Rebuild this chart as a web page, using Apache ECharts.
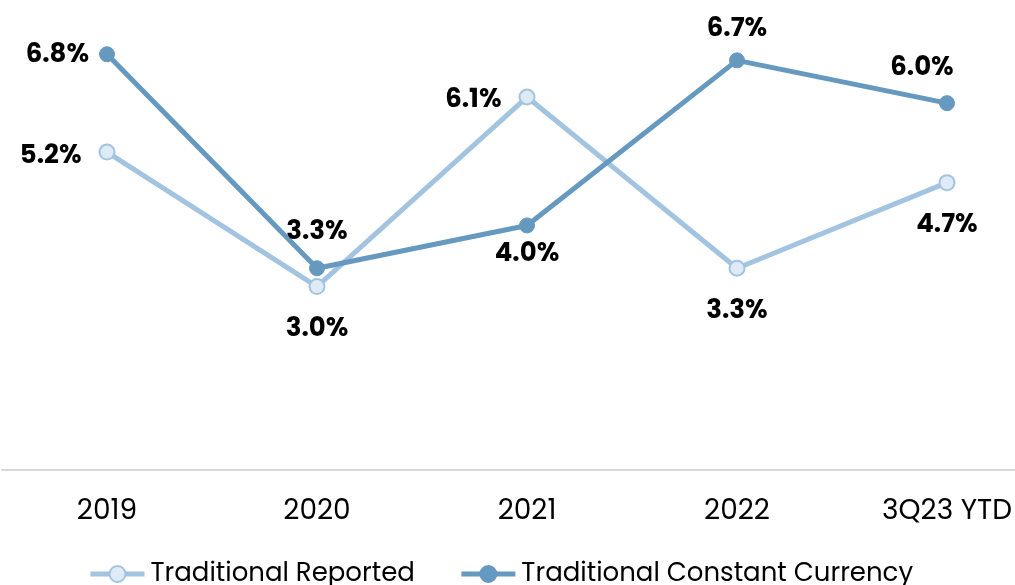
<!DOCTYPE html>
<html>
<head>
<meta charset="utf-8">
<script src="https://cdn.jsdelivr.net/npm/echarts@6/dist/echarts.min.js"></script>
<style>
    html, body { margin: 0; padding: 0; background: #fff; }
    #chart { width: 1015px; height: 585px; }
</style>
</head>
<body>
<div id="chart"></div>
<script>
// 数据 =====================
var categories = ['2019', '2020', '2021', '2022', '3Q23 YTD']
var reported = [5.2, 3.0, 6.1, 3.3, 4.7]
var constant = [6.8, 3.3, 4.0, 6.7, 6.0]

// 标签位置
var reportedPos = ['left', 'bottom', 'left', 'bottom', 'bottom']
var reportedDist = [17, 21, 17, 22, 21]
var reportedOffset = [[0, 4], [0, 0], [0, 3], [0, 0], [0, 0]]
var constantPos = ['left', 'top', 'bottom', 'top', 'top']
var constantDist = [10, 15, 8, 10, 14]
var constantOffset = [[0, 1], [0, 0], [0, 0], [0, 0], [-25, 0]]

var font = 'Poppins, "Open Sans", sans-serif'

function build(values, pos, dist, offset) {
    return values.map(function (v, i) {
        return {
            value: v,
            label: {
                position: pos[i],
                distance: dist[i],
                offset: offset[i]
            }
        }
    })
}

var myChart = echarts.init(document.getElementById('chart'))

var labelStyle = {
    show: true,
    color: '#000',
    fontFamily: font,
    fontWeight: 'bold',
    fontSize: 26,
    formatter: function (p) { return p.value.toFixed(1) + '%' }
}

var option = {
    animation: false,
    grid: {
        left: 2,
        top: 42,
        width: 1050,
        height: 428,
        outerBoundsMode: 'none'
    },
    legend: {
        top: 561,
        left: 88,
        padding: 0,
        itemWidth: 54,
        itemHeight: 20,
        itemGap: 44,
        lineStyle: { width: 5 },
        textStyle: {
            color: '#000',
            fontFamily: font,
            fontSize: 26,
            padding: [0, 0, 0, 1]
        },
        data: ['Traditional Reported', 'Traditional Constant Currency']
    },
    xAxis: {
        type: 'category',
        boundaryGap: true,
        data: categories,
        axisTick: { show: false },
        axisLine: {
            lineStyle: { color: '#d9d9d9', width: 2 }
        },
        axisLabel: {
            color: '#000',
            fontFamily: font,
            fontSize: 28,
            margin: 28
        }
    },
    yAxis: {
        type: 'value',
        min: 0,
        max: 7,
        show: false,
        splitLine: { show: false }
    },
    series: [
        {
            name: 'Traditional Reported',
            type: 'line',
            data: build(reported, reportedPos, reportedDist, reportedOffset),
            symbol: 'circle',
            symbolSize: 15,
            lineStyle: { color: '#a3c4e0', width: 5 },
            itemStyle: { color: '#deebf6', borderColor: '#a3c4e0', borderWidth: 2 },
            label: labelStyle,
            z: 2
        },
        {
            name: 'Traditional Constant Currency',
            type: 'line',
            data: build(constant, constantPos, constantDist, constantOffset),
            symbol: 'circle',
            symbolSize: 15,
            lineStyle: { color: '#6699bf', width: 5 },
            itemStyle: { color: '#6699bf', borderColor: '#6699bf', borderWidth: 1 },
            label: labelStyle,
            z: 3
        }
    ]
}

myChart.setOption(option)
window.addEventListener('resize', function () {
    myChart.resize()
})
</script>
</body>
</html>
